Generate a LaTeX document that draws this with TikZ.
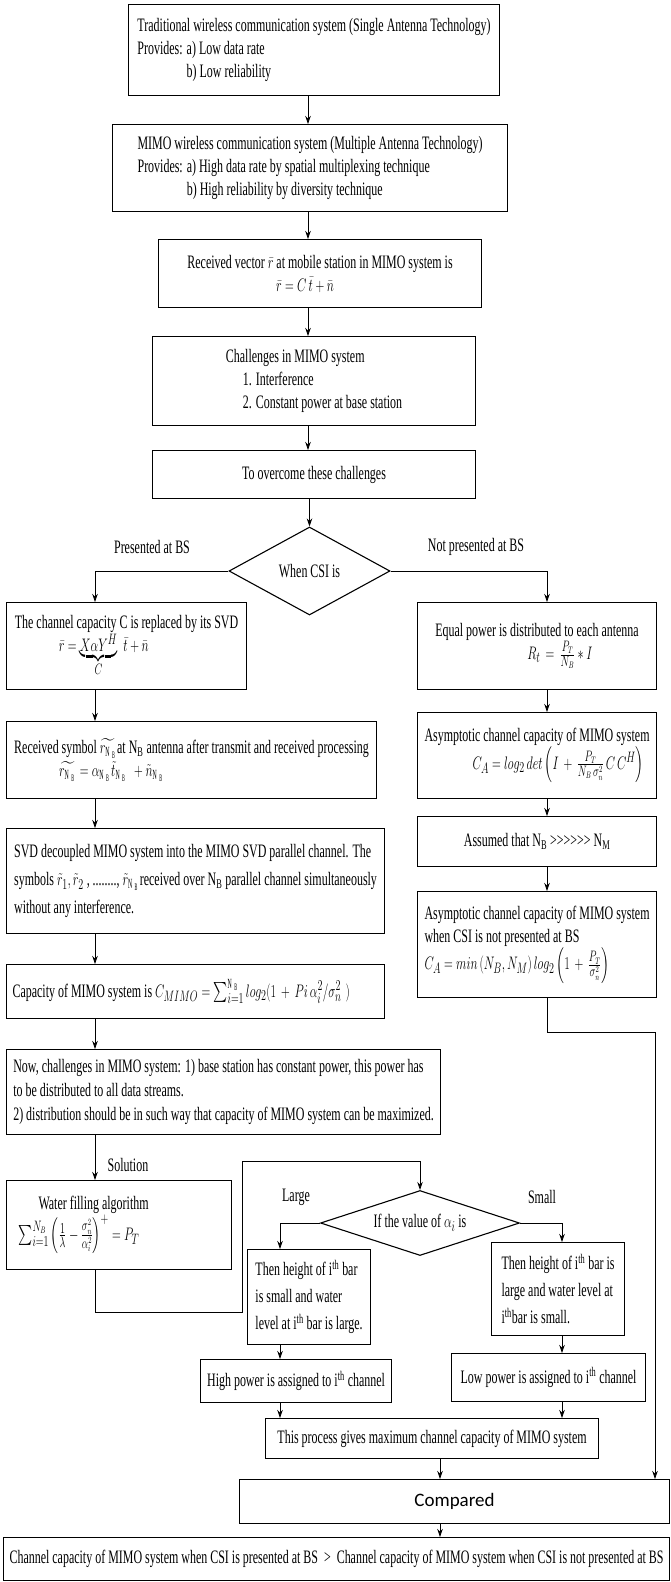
\documentclass[tikz,border=0pt]{standalone}
\usepackage{amsmath,amssymb}
\usepackage{graphicx}
\usepackage{fontspec}
\setmainfont{Liberation Serif}[FakeStretch=0.63]
\newfontfamily\sansfnt{Carlito}
\usepackage{tikz}
\usetikzlibrary{shapes.geometric, arrows.meta, calc}

% squeezed math, to match the narrow text
\newcommand{\eq}[1]{\scalebox{0.7}[1.05]{$#1$}}
\newcommand{\ith}{i\textsuperscript{th}}
\newcommand{\gtr}{>\kern0pt}

\begin{document}
\begin{tikzpicture}[x=1pt, y=-1pt, font=\fontsize{19}{23}\selectfont,
    block/.style={rectangle, draw, line width=1.1pt, anchor=north west, inner xsep=6pt, inner ysep=2pt, align=left},
    decision/.style={diamond, draw, line width=1.1pt, inner sep=0pt, aspect=2},
    lbl/.style={inner sep=0pt},
    arrow/.style={line width=0.8pt, -{Stealth[length=8pt, width=5.5pt]}}]
    \useasboundingbox (0,0) rectangle (670,1582);

    % top column
    \node[block, minimum width=371pt, minimum height=91pt] (trad) at (128,4)
        {Traditional wireless communication system (Single Antenna Technology)\\
         Provides: a) Low data rate\\
         \phantom{Provides: }b) Low reliability};
    \node[block, minimum width=395pt, minimum height=87pt] (mimo) at (112,124)
        {MIMO wireless communication system (Multiple Antenna Technology)\\
         Provides: a) High data rate by spatial multiplexing technique\\
         \phantom{Provides: }b) High reliability by diversity technique};
    \node[block, align=center, minimum width=323pt, minimum height=68pt] (recv) at (158,239)
        {Received vector \eq{\bar r} at mobile station in MIMO system is\\
         \eq{\bar r = C\,\bar t + \bar n}\hspace*{30pt}};
    \node[block, minimum width=323pt, minimum height=89pt] (chal) at (152,336)
        {Challenges in MIMO system\\
         \hspace*{17pt}1. Interference\\
         \hspace*{17pt}2. Constant power at base station};
    \node[block, align=center, minimum width=323pt, minimum height=48pt] (ovc) at (152,450)
        {To overcome these challenges};
    \node[decision, minimum width=161pt, minimum height=88pt] (csi) at (309.5,571) {When CSI is};

    \node[lbl] (pres) at (152,547) {Presented at BS};
    \node[lbl] (notpres) at (476,547) {Not presented at BS};

    % left column
    \node[block, minimum width=240pt, minimum height=87pt] (svd) at (6,602)
        {The channel capacity C is replaced by its SVD\\
         \hspace*{44pt}\eq{\bar r = \underbrace{X\alpha Y^{H}}_{C}\ \ \bar t + \bar n}};
    \node[block, minimum width=370pt, minimum height=77pt] (rsym) at (6,721)
        {Received symbol \eq{\widetilde{r_{\mathrm{N_B}}}}at N\textsubscript{B} antenna after transmit and received processing\\
         \hspace*{45pt}\eq{\widetilde{r_{\mathrm{N_B}}} = \alpha_{\mathrm{N_B}}\tilde t_{\mathrm{N_B}}\ \ + \tilde n_{\mathrm{N_B}}}};
    \node[block, font=\fontsize{19}{28}\selectfont, minimum width=378pt, minimum height=105pt] (decoup) at (6,828)
        {SVD decoupled MIMO system into the MIMO SVD parallel channel. The\\
         symbols \eq{\tilde r_1, \tilde r_2}\,, ........, \eq{\tilde r_{\mathrm{N_B}}}received over N\textsubscript{B} parallel channel simultaneously\\
         without any interference.};
    \node[block, align=flush left, text width=366pt, minimum height=54pt] (cap) at (6,964)
        {Capacity of MIMO system is \eq{C_{MIMO} = \sum\nolimits_{i=1}^{\mathrm{N_B}} log_2(1\ +\ Pi\ \alpha_i^2/\sigma_n^2\ \ )}};
    \node[block, font=\fontsize{19}{24}\selectfont, minimum width=434pt, minimum height=85pt] (now) at (6,1049)
        {Now, challenges in MIMO system: 1) base station has constant power, this power has\\
         to be distributed to all data streams.\\
         2) distribution should be in such way that capacity of MIMO system can be maximized.};
    \node[lbl] (sol) at (128,1165) {Solution};
    \node[block, align=flush left, text width=213pt, minimum height=89pt] (water) at (6,1180)
        {\hspace*{26pt}Water filling algorithm\\
         \hspace*{6pt}\eq{\sum\nolimits_{i=1}^{N_B}\left(\frac{1}{\lambda} - \frac{\sigma_n^2}{\alpha_i^2}\right)^{+} = P_T}};

    % right column
    \node[block, minimum width=239pt, minimum height=87pt] (equal) at (417,602)
        {Equal power is distributed to each antenna\\
         \hspace*{92pt}\eq{R_t\ =\ \frac{P_T}{N_B} * I}};
    \node[block, minimum width=239pt, minimum height=86pt] (asym) at (417,712)
        {Asymptotic channel capacity of MIMO system\\
         \hspace*{48pt}\eq{C_A = log_2\ det\left(I\ +\ \frac{P_T}{N_B\,\sigma_n^2}\,C\,C^H\right)}};
    \node[block, align=center, minimum width=239pt, minimum height=50pt] (assume) at (417,816)
        {Assumed that N\textsubscript{B} \gtr\gtr\gtr\gtr\gtr\gtr{} N\textsubscript{M}};
    \node[block, minimum width=239pt, minimum height=106pt] (asymcsi) at (417,891)
        {Asymptotic channel capacity of MIMO system\\
         when CSI is not presented at BS\\
         \eq{C_A = min\,(N_B, N_M)\ log_2\left(1\ +\ \frac{P_T}{\sigma_n^2}\right)}};

    % water filling branch
    \node[decision, minimum width=199pt, minimum height=65pt] (alpha) at (420,1223) {If the value of \eq{\alpha_i} is};
    \node[lbl] (large) at (296,1197) {Large};
    \node[lbl] (small) at (542,1197) {Small};
    \node[block, font=\fontsize{19}{27}\selectfont, minimum width=123pt, minimum height=95pt] (highbar) at (247,1249)
        {Then height of \ith{} bar\\
         is small and water\\
         level at \ith{} bar is large.};
    \node[block, font=\fontsize{19}{27}\selectfont, minimum width=133pt, minimum height=93pt] (smallbar) at (491,1242)
        {Then height of \ith{} bar is\\
         large and water level at\\
         \ith{}bar is small.};
    \node[block, align=center, minimum width=191pt, minimum height=43pt] (highpow) at (200,1359)
        {High power is assigned to \ith{} channel};
    \node[block, align=center, minimum width=194pt, minimum height=48pt] (lowpow) at (451,1353)
        {Low power is assigned to \ith{} channel};
    \node[block, align=center, minimum width=333pt, minimum height=40pt] (proc) at (265,1418)
        {This process gives maximum channel capacity of MIMO system};
    \node[block, align=center, font=\sansfnt\fontsize{19}{22}\selectfont, minimum width=430pt, minimum height=44pt] (cmp) at (239,1479)
        {Compared};
    \node[block, align=center, inner xsep=2pt, minimum width=666pt, minimum height=43pt] (final) at (3,1537)
        {Channel capacity of MIMO system when CSI is presented at BS\ \ >\ \ Channel capacity of MIMO system when CSI is not presented at BS};

    % connector columns
    \coordinate (cx) at (308,0);
    \coordinate (lx) at (95,0);
    \coordinate (rx) at (547,0);
    \coordinate (mx) at (280,0);
    \coordinate (sx) at (562,0);
    \coordinate (bx) at (440,0);
    \coordinate (turn) at (655,1032);
    \coordinate (loopa) at (242,1312);
    \coordinate (loopb) at (242,1161);

    \foreach \a/\b in {trad/mimo, mimo/recv, recv/chal, chal/ovc}
        \draw[arrow] (\a.south -| cx) -- (\b.north -| cx);
    \draw[arrow] (ovc.south -| csi.north) -- (csi.north);
    \draw[arrow] (csi.west) -| (svd.north -| lx);
    \draw[arrow] (csi.east) -| (equal.north -| rx);

    \foreach \a/\b in {svd/rsym, rsym/decoup, decoup/cap, cap/now, now/water}
        \draw[arrow] (\a.south -| lx) -- (\b.north -| lx);
    \foreach \a/\b in {equal/asym, asym/assume, assume/asymcsi}
        \draw[arrow] (\a.south -| rx) -- (\b.north -| rx);
    \draw[arrow] (asymcsi.south -| rx) |- (turn) -- (cmp.north -| turn);

    \draw[arrow] (water.south -| lx) |- (loopa) -- (loopb) -| (alpha.north);
    \draw[arrow] (alpha.west) -| (highbar.north -| mx);
    \draw[arrow] (alpha.east) -| (smallbar.north -| sx);
    \draw[arrow] (highbar.south -| mx) -- (highpow.north -| mx);
    \draw[arrow] (smallbar.south -| sx) -- (lowpow.north -| sx);
    \draw[arrow] (highpow.south -| mx) -- (proc.north -| mx);
    \draw[arrow] (lowpow.south -| sx) -- (proc.north -| sx);
    \draw[arrow] (proc.south -| bx) -- (cmp.north -| bx);
    \draw[arrow] (cmp.south -| bx) -- (final.north -| bx);
\end{tikzpicture}
\end{document}
